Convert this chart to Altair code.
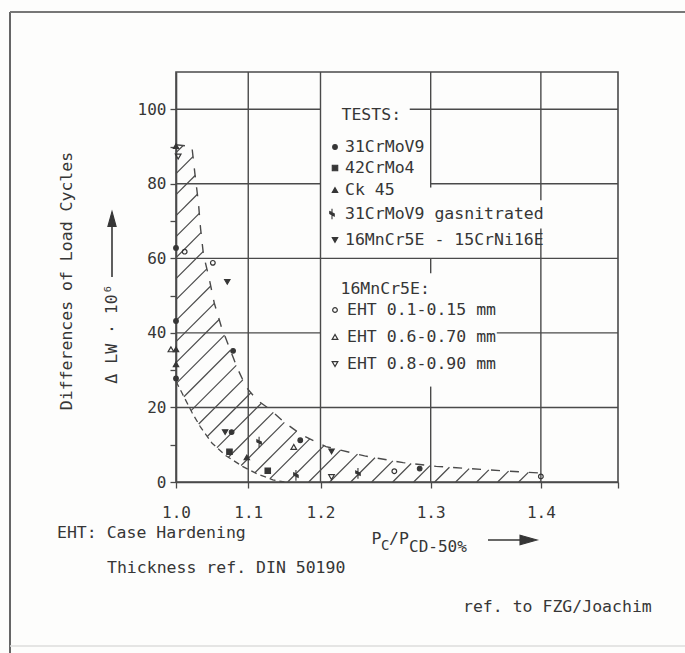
import altair as alt
import numpy as np
import pandas as pd

FONT = "DejaVu Sans Mono"
INK = "#363636"
GRID = "#4a4a4a"
BG = "#fdfdfc"

# ---------------- layout / scales ----------------
W, H = 442, 410
X_DOMAIN = [1.0, 1.2, 1.47]
X_RANGE = [0, 144.5, 442]
Y_MAX = 110

x_ticks = [1.0, 1.1, 1.2, 1.3, 1.4, 1.47]
y_ticks = [0, 10, 20, 30, 40, 50, 60, 70, 80, 90, 100]

# ---------------- measured points ----------------
s31_x = [1.0, 1.0, 1.0, 1.079, 1.077, 1.172, 1.29]
s31_y = [62.8, 43.2, 27.8, 35.2, 13.4, 11.2, 3.6]
s42_x = [1.074, 1.127]
s42_y = [8.1, 3.0]
ck_x = [1.0, 1.0, 1.0, 1.098]
ck_y = [90.1, 35.6, 31.6, 6.6]
gas_x = [1.115, 1.166, 1.234]
gas_y = [10.7, 1.8, 2.3]
mn_x = [1.071, 1.068, 1.21]
mn_y = [53.7, 13.4, 8.2]
e1_x = [1.012, 1.051, 1.267, 1.4]
e1_y = [61.8, 58.8, 2.9, 1.5]
e6_x = [0.993, 1.163]
e6_y = [35.6, 9.4]
e8_x = [1.003, 1.21]
e8_y = [87.3, 1.3]

# ---------------- scatter band ----------------
upper_x = [1.0, 1.022, 1.026, 1.031, 1.034, 1.038, 1.046, 1.053, 1.063, 1.075, 1.085,
           1.097, 1.112, 1.13, 1.15, 1.175, 1.205, 1.24, 1.275, 1.305, 1.335, 1.366, 1.4]
upper_y = [90.5, 90, 83, 75, 68, 61, 54.5, 48, 41.5, 35.5, 30.5,
           25.5, 22, 19.5, 16, 12.5, 9.5, 7, 5.2, 4.2, 3.6, 3.0, 2.4]
lower_x = [1.0, 1.008, 1.022, 1.034, 1.05, 1.068, 1.092, 1.111, 1.134, 1.15, 1.4]
lower_y = [27, 24, 18.7, 14.7, 10.4, 7.2, 4.2, 2.3, 0.6, 0, 0]

# ---------------- grid segments (gaps behind the legend text) ----------------
hgrid_y = [100, 100, 80, 80, 60, 40, 40, 20]
hgrid_x1 = [1.0, 1.281, 1.0, 1.3, 1.0, 1.0, 1.36, 1.0]
hgrid_x2 = [1.2, 1.47, 1.2, 1.47, 1.47, 1.2, 1.47, 1.47]
vgrid_x = [1.1, 1.2, 1.3, 1.3, 1.3, 1.4, 1.4]
vgrid_y1 = [0, 0, 0, 56, 79, 0, 75.6]
vgrid_y2 = [110, 110, 25.6, 60, 110, 68, 110]

# ---------------- legend entries ----------------
tests_labels = ["31CrMoV9", "42CrMo4", "Ck 45", "31CrMoV9 gasnitrated", "16MnCr5E - 15CrNi16E"]
eht_labels = ["EHT 0.1-0.15 mm", "EHT 0.6-0.70 mm", "EHT 0.8-0.90 mm"]

GAS = "M0,-1.2L0,1.2M-0.5,-0.55L0.5,-0.05L0.5,0.45L-0.5,-0.05Z"

xscale = alt.Scale(domain=X_DOMAIN, range=X_RANGE, nice=False, zero=False)
yscale = alt.Scale(domain=[0, Y_MAX], nice=False, zero=False)

x_axis = alt.Axis(values=x_ticks,
                  labelExpr="datum.value > 1.45 ? '' : format(datum.value, '.1f')",
                  grid=False, tickSize=6, tickColor=GRID, tickWidth=1.3,
                  domainColor=GRID, domainWidth=1.6, labelFont=FONT, labelFontSize=16,
                  labelColor=INK, labelPadding=16, title=None, labelFlush=False,
                  labelOverlap=False)
y_axis = alt.Axis(values=y_ticks,
                  labelExpr="datum.value % 20 == 0 ? format(datum.value, 'd') : ''",
                  grid=False, tickSize=6, tickColor=GRID, tickWidth=1.3,
                  domainColor=GRID, domainWidth=1.6, labelFont=FONT, labelFontSize=16,
                  labelColor=INK, labelPadding=4, title=None, labelFlush=False,
                  labelOverlap=False)


def X(f):
    return alt.X(f, type="quantitative", scale=xscale, axis=x_axis)


def Y(f):
    return alt.Y(f, type="quantitative", scale=yscale, axis=y_axis)


ONE = pd.DataFrame({"a": [0]})
layers = []

# grid
hg = pd.DataFrame({"y": hgrid_y, "x1": hgrid_x1, "x2": hgrid_x2})
vg = pd.DataFrame({"x": vgrid_x, "y1": vgrid_y1, "y2": vgrid_y2})
layers.append(alt.Chart(hg).mark_rule(color=GRID, strokeWidth=1.4).encode(
    x=X("x1:Q"), x2="x2:Q", y=Y("y:Q")))
layers.append(alt.Chart(vg).mark_rule(color=GRID, strokeWidth=1.4).encode(
    x=X("x:Q"), y=Y("y1:Q"), y2="y2:Q"))


# hatching of the band (45 degree lines clipped to the band outline)
def to_px(xs, ys):
    return np.interp(xs, X_DOMAIN, X_RANGE), H * (1 - np.asarray(ys, float) / Y_MAX)


ux, uy = to_px(upper_x, upper_y)
lx, ly = to_px(lower_x, lower_y)
poly = list(zip(ux, uy)) + list(zip(lx[::-1], ly[::-1]))
n = len(poly)
sums = [p[0] + p[1] for p in poly]
segs = []
for c in np.arange(min(sums) + 8, max(sums), 21.0):
    hits = []
    for i in range(n):
        p, q = poly[i], poly[(i + 1) % n]
        fp, fq = p[0] + p[1] - c, q[0] + q[1] - c
        if (fp < 0) != (fq < 0):
            t = fp / (fp - fq)
            hits.append((p[0] + t * (q[0] - p[0]), p[1] + t * (q[1] - p[1])))
    hits.sort()
    for k in range(0, len(hits) - 1, 2):
        (ax, ay), (bx, by) = hits[k], hits[k + 1]
        segs.append((np.interp(ax, X_RANGE, X_DOMAIN), Y_MAX * (1 - ay / H),
                     np.interp(bx, X_RANGE, X_DOMAIN), Y_MAX * (1 - by / H)))
hatch = pd.DataFrame(segs, columns=["x1", "y1", "x2", "y2"])
layers.append(alt.Chart(hatch).mark_rule(color=GRID, strokeWidth=1.2).encode(
    x=X("x1:Q"), y=Y("y1:Q"), x2="x2:Q", y2="y2:Q"))

up = pd.DataFrame({"x": upper_x, "y": upper_y, "i": range(len(upper_x))})
lo = pd.DataFrame({"x": lower_x[:-1], "y": lower_y[:-1], "i": range(len(lower_x) - 1)})
layers.append(alt.Chart(up).mark_line(color=GRID, strokeWidth=1.4, strokeDash=[9, 10]).encode(
    x=X("x:Q"), y=Y("y:Q"), order="i:Q"))
layers.append(alt.Chart(lo).mark_line(color=GRID, strokeWidth=1.3, strokeDash=[6, 4]).encode(
    x=X("x:Q"), y=Y("y:Q"), order="i:Q"))


# points
def pts(xs, ys, shape, filled, size):
    df = pd.DataFrame({"x": xs, "y": ys})
    if filled:
        m = alt.Chart(df).mark_point(shape=shape, filled=True, fill=INK, stroke=INK,
                                     strokeWidth=1.1, size=size, opacity=1)
    else:
        m = alt.Chart(df).mark_point(shape=shape, filled=False, stroke=INK,
                                     strokeWidth=1.2, size=size, opacity=1)
    return m.encode(x=X("x:Q"), y=Y("y:Q"))


series = [
    (s31_x, s31_y, "circle", True, 22),
    (s42_x, s42_y, "square", True, 30),
    (ck_x, ck_y, "triangle-up", True, 30),
    (gas_x, gas_y, GAS, True, 80),
    (mn_x, mn_y, "triangle-down", True, 30),
    (e1_x, e1_y, "circle", False, 22),
    (e6_x, e6_y, "triangle-up", False, 32),
    (e8_x, e8_y, "triangle-down", False, 32),
]
for xs, ys, shp, fl, sz in series:
    layers.append(pts(xs, ys, shp, fl, sz))


# annotations
def label(text, x, y, size=16.5, align="left", angle=0):
    return alt.Chart(ONE).mark_text(text=text, align=align, baseline="middle", angle=angle,
                                    font=FONT, fontSize=size, color=INK).encode(
        x=alt.value(x), y=alt.value(y))


def sym(x, y, shape, filled, size):
    if filled:
        m = alt.Chart(ONE).mark_point(shape=shape, filled=True, fill=INK, stroke=INK,
                                      strokeWidth=1.1, size=size, opacity=1)
    else:
        m = alt.Chart(ONE).mark_point(shape=shape, filled=False, stroke=INK,
                                      strokeWidth=1.2, size=size, opacity=1)
    return m.encode(x=alt.value(x), y=alt.value(y))


# frame of the figure
layers.append(alt.Chart(ONE).mark_rule(color="#666", strokeWidth=2).encode(
    x=alt.value(-166), y=alt.value(-60), y2=alt.value(590)))
layers.append(alt.Chart(ONE).mark_rule(color="#777", strokeWidth=2).encode(
    x=alt.value(-166), x2=alt.value(520), y=alt.value(-60)))
layers.append(alt.Chart(ONE).mark_rule(color="#ddd", strokeWidth=1.5).encode(
    x=alt.value(-166), x2=alt.value(520), y=alt.value(574)))

# legend block
layers.append(label("TESTS:", 165.5, 43))
tests_y = [75, 96, 118, 142, 168]
for (xs, ys, shp, fl, sz), t, yy in zip(series[:5], tests_labels, tests_y):
    layers.append(sym(156 if shp == GAS else 159, yy, shp, fl, sz))
    layers.append(label(t, 169, yy))
layers.append(label("16MnCr5E:", 164.5, 216.5))
eht_y = [238, 265, 292]
for (xs, ys, shp, fl, sz), t, yy in zip(series[5:], eht_labels, eht_y):
    layers.append(sym(159, yy, shp, fl, sz))
    layers.append(label(t, 171, yy))

# y title with arrow
layers.append(label("Differences of Load Cycles", -109, 209, align="center", angle=270))
layers.append(label("\u0394 LW \u00b7 10\u2076", -64, 262, align="center", angle=270))
layers.append(alt.Chart(ONE).mark_rule(color=INK, strokeWidth=1.6).encode(
    x=alt.value(-64), y=alt.value(150), y2=alt.value(205)))
layers.append(sym(-64, 147, "M0,-1L0.55,1L-0.55,1Z", True, 225))

# x title with arrow
layers.append(label("P", 195.5, 467, size=16.5))
layers.append(label("C", 205, 474, size=14))
layers.append(label("/P", 213, 467, size=16.5))
layers.append(label("CD-50%", 233, 475, size=16))
layers.append(alt.Chart(ONE).mark_rule(color=INK, strokeWidth=1.6).encode(
    x=alt.value(312), x2=alt.value(348), y=alt.value(468)))
layers.append(sym(352.5, 468, "M1,0L-1,0.55L-1,-0.55Z", True, 289))

# notes
layers.append(label("EHT: Case Hardening", -119, 461))
layers.append(label("Thickness ref. DIN 50190", -69, 496))
layers.append(label("ref. to FZG/Joachim", 287, 535))

chart = alt.layer(*layers).properties(
    width=W, height=H,
    padding={"left": 176, "top": 72, "right": 67, "bottom": 171},
    autosize=alt.AutoSizeParams(type="none"),
    background=BG,
).configure_view(stroke=GRID, strokeWidth=1.6)

chart.save("out.html", embed_options={"renderer": "svg", "actions": False})
